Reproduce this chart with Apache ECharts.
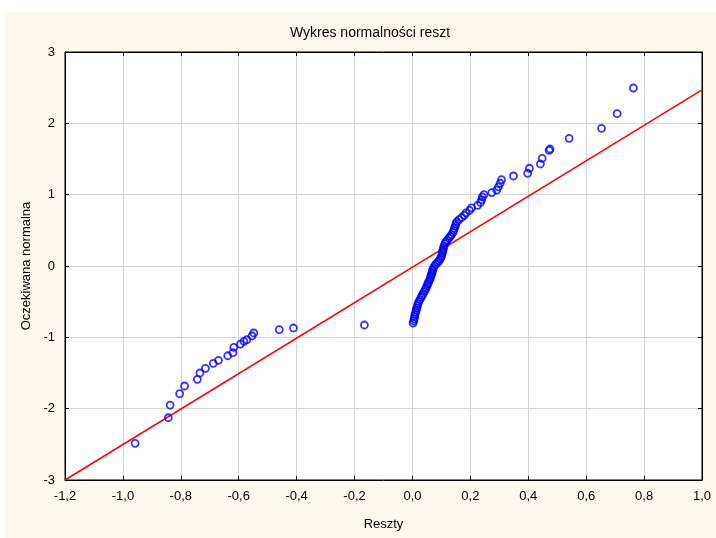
<!DOCTYPE html>
<html>
<head>
<meta charset="utf-8">
<script src="https://cdn.jsdelivr.net/npm/echarts@6/dist/echarts.min.js"></script>
<style>html,body{margin:0;padding:0;background:#fff;}#c{width:716px;height:538px;}</style>
</head>
<body>
<div id="c"></div>
<script>
// Residuals (x) and expected normal values (y)
const leftX = [-0.958,-0.843,-0.837,-0.804,-0.787,-0.743,-0.734,-0.715,-0.688,-0.670,-0.638,-0.620,-0.617,-0.594,-0.582,-0.572,-0.554,-0.548,-0.460,-0.411,-0.166];
const leftY = [-2.486,-2.127,-1.949,-1.790,-1.682,-1.588,-1.500,-1.434,-1.364,-1.322,-1.258,-1.215,-1.140,-1.094,-1.056,-1.033,-0.981,-0.939,-0.893,-0.869,-0.827];
const midX = [0.002,0.0045,0.006,0.0075,0.009,0.011,0.013,0.015,0.017,0.019,0.022,0.026,0.030,0.033,0.037,0.040,0.044,0.047,0.050,0.053,0.055,0.058,0.061,0.063,0.065,0.067,0.069,0.070,0.073,0.076,0.081,0.087,0.092,0.096,0.099,0.101,0.103,0.104,0.106,0.107,0.109,0.112,0.115,0.120,0.126,0.131,0.135,0.140,0.143,0.145,0.148,0.150,0.153,0.161,0.170,0.179,0.185,0.197,0.204,0.225,0.235,0.239,0.241,0.247,0.274,0.291,0.297,0.303,0.308];
const midY = [-0.80,-0.77,-0.74,-0.71,-0.68,-0.65,-0.62,-0.59,-0.56,-0.53,-0.50,-0.47,-0.44,-0.415,-0.39,-0.36,-0.335,-0.31,-0.28,-0.255,-0.23,-0.205,-0.18,-0.15,-0.125,-0.10,-0.075,-0.05,-0.025,0.0,0.025,0.05,0.075,0.10,0.125,0.15,0.18,0.205,0.23,0.255,0.28,0.31,0.335,0.36,0.39,0.415,0.44,0.47,0.50,0.53,0.56,0.59,0.62,0.65,0.68,0.71,0.745,0.78,0.815,0.85,0.89,0.93,0.97,1.00,1.03,1.065,1.11,1.16,1.21];
const rightX = [0.349,0.398,0.404,0.442,0.448,0.472,0.475,0.541,0.653,0.707,0.763];
const rightY = [1.262,1.30,1.37,1.43,1.51,1.62,1.64,1.79,1.93,2.135,2.495];
// Reference line endpoints
const lineX = [-1.2, 1.0];
const lineY = [-3.0, 2.47];

const title = 'Wykres normalności reszt';
const xName = 'Reszty';
const yName = 'Oczekiwana normalna';

const resX = leftX.concat(midX, rightX);
const resY = leftY.concat(midY, rightY);
const pts = resX.map((x, i) => [x, resY[i]]);
const linePts = lineX.map((x, i) => [x, lineY[i]]);

const FONT = 'Liberation Sans';
const fmtX = v => (Math.round(v * 10) / 10).toFixed(1).replace('.', ',');

const chart = echarts.init(document.getElementById('c'), null, {renderer: 'canvas'});
chart.setOption({
  animation: false,
  backgroundColor: '#ffffff',
  graphic: [{
    type: 'rect', z: -10, silent: true,
    shape: {x: 5, y: 12, width: 711, height: 526},
    style: {fill: '#fdf8ee'}
  }],
  title: {
    text: title, left: 365, top: 21, textAlign: 'center',
    textStyle: {fontFamily: FONT, fontSize: 14, fontWeight: 'normal', color: '#000'}
  },
  grid: {left: 65, right: 14, top: 52, bottom: 58, show: true, backgroundColor: '#ffffff', borderColor: '#000', borderWidth: 1},
  xAxis: [{
    type: 'value', min: -1.2, max: 1.0, interval: 0.2,
    name: xName, nameLocation: 'middle', nameGap: 38,
    nameTextStyle: {fontFamily: FONT, fontSize: 13, color: '#000'},
    axisLine: {show: true, onZero: false, lineStyle: {color: '#000', width: 1}},
    axisTick: {show: true, inside: true, length: 4, lineStyle: {color: '#000'}},
    axisLabel: {fontFamily: FONT, fontSize: 13, color: '#000', margin: 10, formatter: fmtX},
    splitLine: {show: true, lineStyle: {color: '#d6d6d6', width: 1}}
  }, {
    type: 'value', position: 'top', min: -1.2, max: 1.0, interval: 0.2,
    axisLine: {show: true, onZero: false, lineStyle: {color: '#000'}},
    axisTick: {show: true, inside: true, length: 4, lineStyle: {color: '#000'}},
    axisLabel: {show: false}, splitLine: {show: false}
  }],
  yAxis: [{
    type: 'value', min: -3, max: 3, interval: 1,
    name: yName, nameLocation: 'middle', nameGap: 32, nameRotate: 90,
    nameTextStyle: {fontFamily: FONT, fontSize: 13, color: '#000'},
    axisLine: {show: true, onZero: false, lineStyle: {color: '#000', width: 1}},
    axisTick: {show: true, inside: true, length: 4, lineStyle: {color: '#000'}},
    axisLabel: {fontFamily: FONT, fontSize: 13, color: '#000', margin: 10},
    splitLine: {show: true, lineStyle: {color: '#d6d6d6', width: 1}}
  }, {
    type: 'value', position: 'right', min: -3, max: 3, interval: 1,
    axisLine: {show: true, onZero: false, lineStyle: {color: '#000'}},
    axisTick: {show: true, inside: true, length: 4, lineStyle: {color: '#000'}},
    axisLabel: {show: false}, splitLine: {show: false}
  }],
  series: [{
    type: 'line', data: linePts, showSymbol: false, symbol: 'none',
    lineStyle: {color: '#ff0000', width: 1.5}, z: 2, silent: true
  }, {
    type: 'scatter', data: pts, symbol: 'circle', symbolSize: 7,
    itemStyle: {color: 'rgba(0,0,0,0)', borderColor: '#0000ff', borderWidth: 1.8},
    z: 3, silent: true
  }]
});
</script>
</body>
</html>
